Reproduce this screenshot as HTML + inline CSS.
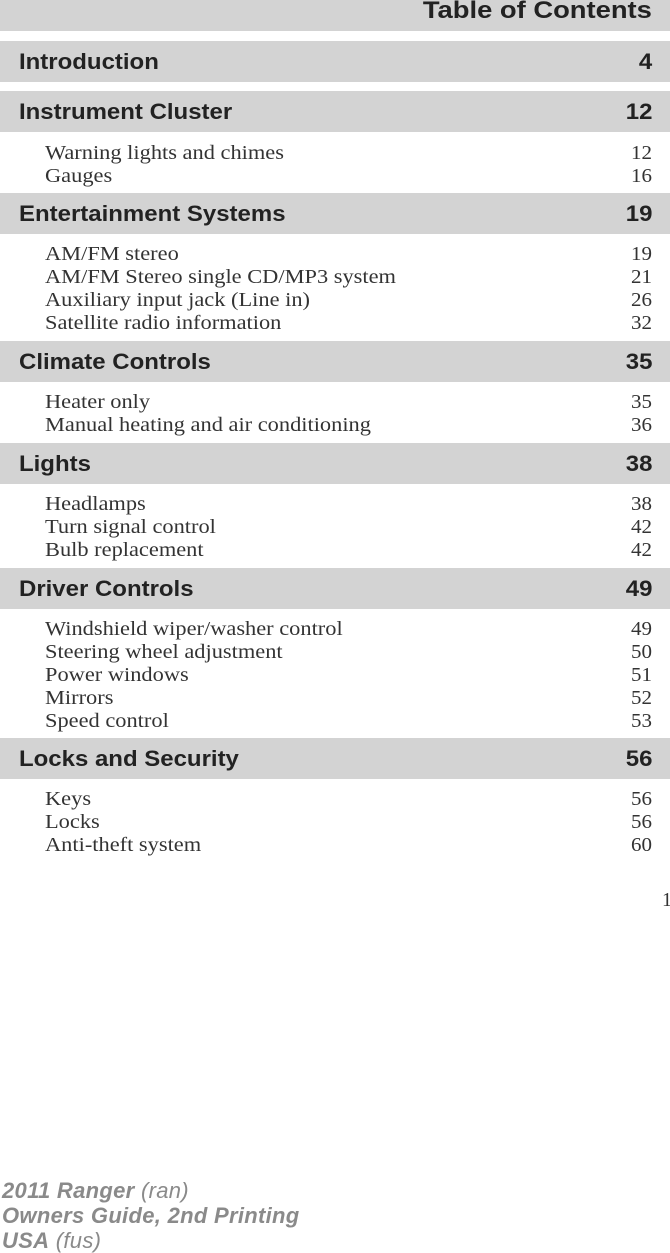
<!DOCTYPE html>
<html><head><style>
body{margin:0;width:670px;height:1253px;background:#fff;position:relative;overflow:hidden;font-family:"Liberation Sans",sans-serif;}
.top{position:absolute;left:0;top:0;width:670px;height:31px;background:#d3d3d3;}
.top span{position:absolute;right:18px;top:-3px;font-weight:bold;font-size:24px;color:#222;transform:scaleX(1.14);transform-origin:right;}
.bar{position:absolute;left:0;width:670px;height:41px;background:#d3d3d3;}
.bar span{position:absolute;top:8px;font-weight:bold;font-size:22px;color:#222;line-height:26px;}
.bar .l{left:19px;transform:scaleX(1.09);transform-origin:left}.bar .r{right:18px;transform:scaleX(1.09);transform-origin:right}
.e{position:absolute;left:45px;width:607px;height:23px;font-family:"Liberation Serif",serif;font-size:20px;color:#333;line-height:23px;}
.e i{font-style:normal;position:absolute;left:0;top:0;transform:scaleX(1.12);transform-origin:left;white-space:nowrap}
.e b{position:absolute;right:0;top:0;font-weight:normal;transform:scaleX(1.05);transform-origin:right}
.f{position:absolute;left:2px;font-size:22px;color:#8a8a8a;font-style:italic;line-height:25px;letter-spacing:0.3px;}
.f b{font-weight:bold}
</style></head><body>
<div class="top"><span>Table of Contents</span></div>
<div class="bar" style="top:41px"><span class="l">Introduction</span><span class="r">4</span></div>
<div class="bar" style="top:91px"><span class="l">Instrument Cluster</span><span class="r">12</span></div>
<div class="e" style="top:142px"><i>Warning lights and chimes</i><b>12</b></div>
<div class="e" style="top:165px"><i>Gauges</i><b>16</b></div>
<div class="bar" style="top:193px"><span class="l">Entertainment Systems</span><span class="r">19</span></div>
<div class="e" style="top:243px"><i>AM/FM stereo</i><b>19</b></div>
<div class="e" style="top:266px"><i>AM/FM Stereo single CD/MP3 system</i><b>21</b></div>
<div class="e" style="top:289px"><i>Auxiliary input jack (Line in)</i><b>26</b></div>
<div class="e" style="top:312px"><i>Satellite radio information</i><b>32</b></div>
<div class="bar" style="top:341px"><span class="l">Climate Controls</span><span class="r">35</span></div>
<div class="e" style="top:391px"><i>Heater only</i><b>35</b></div>
<div class="e" style="top:414px"><i>Manual heating and air conditioning</i><b>36</b></div>
<div class="bar" style="top:443px"><span class="l">Lights</span><span class="r">38</span></div>
<div class="e" style="top:493px"><i>Headlamps</i><b>38</b></div>
<div class="e" style="top:516px"><i>Turn signal control</i><b>42</b></div>
<div class="e" style="top:539px"><i>Bulb replacement</i><b>42</b></div>
<div class="bar" style="top:568px"><span class="l">Driver Controls</span><span class="r">49</span></div>
<div class="e" style="top:618px"><i>Windshield wiper/washer control</i><b>49</b></div>
<div class="e" style="top:641px"><i>Steering wheel adjustment</i><b>50</b></div>
<div class="e" style="top:664px"><i>Power windows</i><b>51</b></div>
<div class="e" style="top:687px"><i>Mirrors</i><b>52</b></div>
<div class="e" style="top:710px"><i>Speed control</i><b>53</b></div>
<div class="bar" style="top:738px"><span class="l">Locks and Security</span><span class="r">56</span></div>
<div class="e" style="top:788px"><i>Keys</i><b>56</b></div>
<div class="e" style="top:811px"><i>Locks</i><b>56</b></div>
<div class="e" style="top:834px"><i>Anti-theft system</i><b>60</b></div>
<div style="position:absolute;left:662px;top:889px;font-family:'Liberation Serif',serif;font-size:20px;color:#333;">1</div>
<div class="f" style="top:1178px"><b>2011 Ranger</b> (ran)</div>
<div class="f" style="top:1203px"><b>Owners Guide, 2nd Printing</b></div>
<div class="f" style="top:1228px"><b>USA</b> (fus)</div>
</body></html>
